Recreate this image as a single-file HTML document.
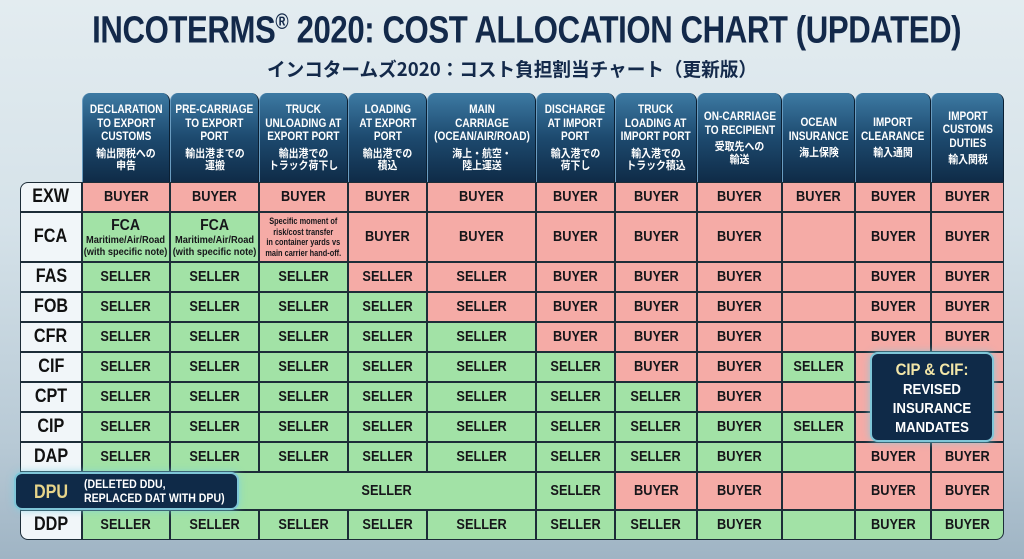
<!DOCTYPE html>
<html><head><meta charset="utf-8">
<style>
html,body{margin:0;padding:0;}
body{width:1024px;height:559px;overflow:hidden;position:relative;
background:linear-gradient(180deg,#e3ecf0 0%,#d5e2e9 40%,#b7c9d5 80%,#9fb4c4 100%);
font-family:"Liberation Sans","Noto Sans CJK JP",sans-serif;}
.abs{position:absolute;box-sizing:border-box;}
#title{left:0;width:1024px;top:9px;text-align:center;font-weight:bold;font-size:38px;color:#13294a;letter-spacing:-0.5px;transform:scaleX(0.82);transform-origin:512px 0;white-space:nowrap;}
#subtitle{left:0;width:1024px;top:55px;text-align:center;font-weight:bold;font-size:19px;color:#13294a;font-family:"Noto Sans CJK JP",sans-serif;transform:scaleX(0.98);transform-origin:512px 0;white-space:nowrap;}
.hd{background:linear-gradient(180deg,#3d7aa3 0%,#1d4a6f 50%,#0f2b47 100%);border-radius:8px 8px 0 0;color:#fff;text-align:center;display:flex;flex-direction:column;justify-content:center;align-items:center;border-left:1px solid #6a9cc0;border-right:1px solid #0a1f33;}
.hd .en{font-weight:bold;font-size:12px;line-height:13.5px;transform:scaleX(0.84);white-space:nowrap;}
.hd .jp{font-family:"Noto Sans CJK JP",sans-serif;font-weight:bold;font-size:11px;line-height:12.5px;margin-top:3px;transform:scaleX(0.9);white-space:nowrap;}
.cell{border:1px solid #1d2d38;display:flex;align-items:center;justify-content:center;text-align:center;font-weight:bold;color:#16161a;font-size:14.5px;}
.cell>span{display:inline-block;transform:scaleX(0.88);white-space:nowrap;}
.rh{background:#f1f6f9;border:1px solid #1d2d38;display:flex;align-items:center;justify-content:center;font-weight:bold;font-size:19px;color:#111;}
.rh span{display:inline-block;transform:scaleX(0.85);}
.callout{background:#0f2a48;border:2px solid #7fc6d8;border-radius:8px;box-shadow:0 0 8px rgba(120,210,230,0.8);color:#fff;font-weight:bold;}
</style></head>
<body>
<div id="title" class="abs">INCOTERMS<sup style="font-size:22px">®</sup> 2020: COST ALLOCATION CHART (UPDATED)</div>
<div id="subtitle" class="abs">インコタームズ2020：コスト負担割当チャート（更新版）</div>
<div id="table"></div>
<div class="abs callout" style="left:870px;top:352px;width:124px;height:90px;text-align:center;padding-top:6px;">
<div style="color:#f3e6a8;font-size:17px;line-height:20px;transform:scaleX(0.88)">CIP &amp; CIF:</div>
<div style="font-size:15px;line-height:19px;transform:scaleX(0.88)">REVISED<br>INSURANCE<br>MANDATES</div></div>
<div class="abs callout" style="left:14px;top:472px;width:225px;height:38px;">
<div class="abs" style="left:18px;top:8px;color:#e8d58a;font-size:19px;transform:scaleX(0.85);transform-origin:0 0">DPU</div>
<div class="abs" style="left:68px;top:3px;font-size:12px;line-height:14px;white-space:nowrap;transform:scaleX(0.88);transform-origin:0 0">(DELETED DDU,<br>REPLACED DAT WITH DPU)</div></div>
<script>
const colEn=["DECLARATION<br>TO EXPORT<br>CUSTOMS","PRE-CARRIAGE<br>TO EXPORT<br>PORT","TRUCK<br>UNLOADING AT<br>EXPORT PORT","LOADING<br>AT EXPORT<br>PORT","MAIN<br>CARRIAGE<br>(OCEAN/AIR/ROAD)","DISCHARGE<br>AT IMPORT<br>PORT","TRUCK<br>LOADING AT<br>IMPORT PORT","ON-CARRIAGE<br>TO RECIPIENT","OCEAN<br>INSURANCE","IMPORT<br>CLEARANCE","IMPORT<br>CUSTOMS<br>DUTIES"];
const colJp=["輸出関税への<br>申告","輸出港までの<br>運搬","輸出港での<br>トラック荷下し","輸出港での<br>積込","海上・航空・<br>陸上運送","輸入港での<br>荷下し","輸入港での<br>トラック積込","受取先への<br>輸送","海上保険","輸入通関","輸入関税"];
const terms=["EXW","FCA","FAS","FOB","CFR","CIF","CPT","CIP","DAP","DPU","DDP"];
// text values per term: B=BUYER S=SELLER _=empty, F=FCA note, N=small note
const values=[
"BBBBBBBBBBB","FFNBBBBB_BB","SSSSSBBB_BB","SSSSSBBB_BB","SSSSSBBB_BB","SSSSSSBBSBB","SSSSSSSB_BB","SSSSSSSBSBB","SSSSSSSB_BB","SSSSSSBB_BB","SSSSSSSB_BB"];
// colors: g=green p=pink
const colors=[
"ppppppppppp","ggppppppppp","gggpppppppp","ggggppppppp","gggggpppppp","ggggggppgpp","gggggggpppp","gggggggggpp","gggggggggpp","ggggggppppp","ggggggggggg"];
const colX=[82,170,259,348,427,536,615,697,782,855,931,1004];
const rowY=[182,212,262,292,322,352,382,412,442,472,510,540];
const T=document.getElementById('table');
const GREEN='#a2e2a6',PINK='#f5aba6';
function add(cls,l,t,w,h,html){const d=document.createElement('div');d.className='abs '+cls;d.style.left=l+'px';d.style.top=t+'px';d.style.width=w+'px';d.style.height=h+'px';d.innerHTML=html;T.appendChild(d);return d;}
colEn.forEach((e,i)=>{
 const d=add('hd',colX[i],93,colX[i+1]-colX[i],89,'<div class="en">'+e+'</div><div class="jp">'+colJp[i]+'</div>');
 
 
});
terms.forEach((t,r)=>{
 const y=rowY[r],h=rowY[r+1]-rowY[r];
 const rh=add('rh',20,y,62,h,'<span>'+t+'</span>');
 
 
 if(r===0)rh.style.borderTopLeftRadius='8px';
 if(r===terms.length-1)rh.style.borderBottomLeftRadius='8px';
 let c=0;
 while(c<11){
  let v=values[r][c],col=colors[r][c],span=1;
  if(t==='DPU'&&c===0){span=5;}
  const x=colX[c],w=colX[c+span]-x;
  let txt='';
  if(v==='B')txt='<span>BUYER</span>';
  else if(v==='S')txt='<span>SELLER</span>';
  else if(v==='F')txt='<span style="line-height:11px"><span style="font-size:16px;line-height:17px">FCA</span><br><span style="font-size:10.5px;font-weight:bold">Maritime/Air/Road<br>(with specific note)</span></span>';
  else if(v==='N')txt='<span style="font-size:9px;line-height:10.5px;transform:scaleX(0.82)">Specific moment of<br>risk/cost transfer<br>in container yards vs<br>main carrier hand-off.</span>';
  const d=add('cell',x,y,w,h,txt);
  if(span>1)d.style.paddingLeft='155px';
  d.style.background=col==='g'?GREEN:PINK;
  
  
  if(r===terms.length-1&&c+span===11)d.style.borderBottomRightRadius='8px';
  c+=span;
 }
});
</script>
</body></html>
